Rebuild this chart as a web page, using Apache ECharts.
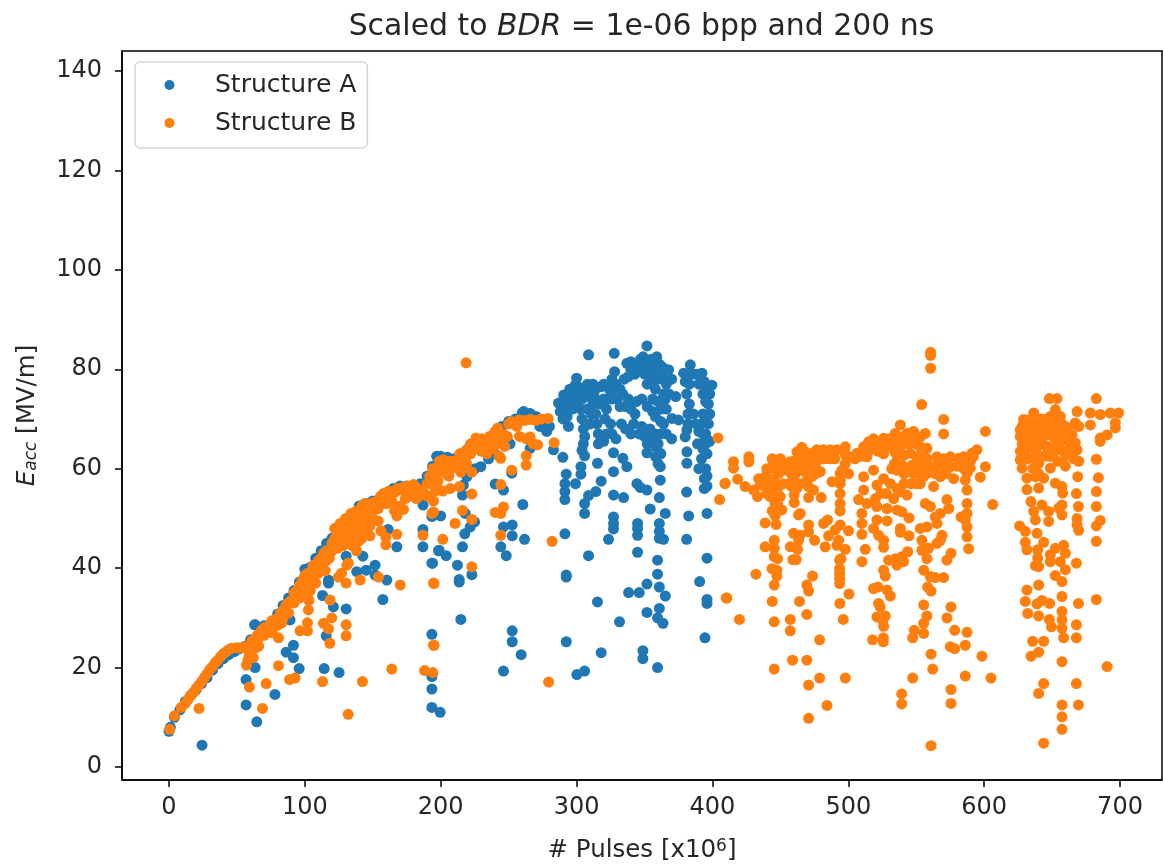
<!DOCTYPE html>
<html><head><meta charset="utf-8">
<script src="https://cdn.jsdelivr.net/npm/echarts@6/dist/echarts.min.js"></script>
<style>html,body{margin:0;padding:0;background:#fff}#c{width:1163px;height:866px}</style>
</head><body><div id="c"></div>
<script>
const xTicks=[0,100,200,300,400,500,600,700];
const yTicks=[0,20,40,60,80,100,120,140];
const seriesNames=['Structure A','Structure B'];
const structureABand=[[0,7.2],[1,8],[4,10],[8,11.5],[12,13.2],[16,14.4],[20,15.6],[24,16.8],[28,18],[32,19.5],[36,20.8],[40,21.8],[44,22.6],[48,23.2],[52,23.8],[56,24.3],[60,25.6],[63,28.6],[70,28.4],[75,29],[80,30.8],[84,32.5],[88,34],[92,35.5],[96,37.2],[100,39.8],[104,40.2],[108,42],[112,43.5],[116,45],[120,46],[124,47.3],[128,48.5],[132,50],[136,51],[140,52.5],[145,53],[150,53.5],[155,54],[160,55],[165,56],[170,56.5],[175,56.5],[180,56.2],[185,57],[190,58.5],[194,60.5],[197,62.5],[200,62.5],[205,62.3],[210,62],[215,63],[220,64],[225,64.5],[230,65],[235,66],[240,67],[245,68.5],[250,69.5],[255,70],[260,71.2],[265,71],[270,70.5],[275,68.8],[280,68.5],[278,67.5],[273,68.5],[265.8,71.1],[261,71.5],[251,65],[265.8,64.1],[240,63],[225.3,60],[219.2,58.4],[216.7,56.7],[218,51]];
const structureALow=[[24.3,4.4],[64.6,9.1],[56.7,12.5],[78,14.6],[56.7,17.6],[63.4,20],[95.8,19.8],[114.2,19.8],[125.2,19],[91.6,22],[86.2,23.1],[91.6,24.5],[115.7,26.4],[63.4,28.6],[89.1,29.6],[130.4,31.8],[121,32.2],[113,34.5],[157.4,33.7],[117.4,37],[117.4,37.6],[160.3,37.6],[151.7,38.6],[151.7,40.6],[145.1,39.6],[138.2,39.3],[142.7,42.4],[130.4,42.4],[167.7,44.3],[161.3,47.8],[186.9,44.3],[186.9,47.8],[193.5,41],[193.5,26.7],[193.5,15.7],[193.5,18.2],[193.5,12],[199.6,11],[198.4,43.5],[193.5,50.4],[187,52.7],[246.2,19.3],[300.2,18.6],[305.9,19.3],[318.1,23],[259.2,22.6],[252.6,25.2],[252.6,27.4],[292.4,25.2],[348.8,21.8],[348.8,23.4],[359.6,20],[331.6,29.2],[351.8,31.1],[359.6,30],[363.6,28.9],[360.9,31.9],[214.8,29.7],[394.5,26],[396,32.9],[396,33.7],[390.6,37.3],[365.3,34.4],[360.9,36.2],[351.8,36.8],[346.1,35.1],[338.3,35.1],[315.4,33.2],[292.4,38.6],[292.4,38.2],[359.6,38.8],[359.6,41.6],[396,42],[344.9,43.2],[308.8,42.5],[248.2,42.5],[244.2,44.3],[216,44.3],[204,42.5],[198.8,43.6],[194,41],[212.3,40.6],[222.9,38.7],[213.6,37.7],[213.6,37.2],[261.7,45.8],[252.6,46.5],[252.6,48.7],[246.2,48.3],[291.4,46.9],[323.5,45.8],[327.2,50.3],[327.2,47.9],[327.2,49],[344.9,49],[344.9,48],[344.9,46.6],[360.9,49],[360.9,47.4],[360.9,46],[364,45.8],[381,45.8],[365.3,51],[382.5,50.5],[396,51],[305.9,51],[305.9,53],[308.8,54.6],[314.2,55.4],[291.4,53.8],[291.4,55.4],[291.4,57],[292.4,58.9],[299.2,57],[303.2,58.9],[303.2,60.4],[327.2,54.7],[334.6,54.2],[354.2,51.9],[351.8,55.7],[344.4,57],[347,56.2],[360.9,54.2],[381,55.3],[318.1,57.5],[327.2,59.4],[315.4,61.1],[337,60.4],[334.1,62.1],[327.2,63.2],[305.9,62.6],[289.9,62.3],[283,63.8],[361.6,60.4],[361.6,57.7],[361.6,63.1],[351.8,63.2],[381.2,61.1],[381.2,63.4],[217.7,46.9],[221.7,48.3],[224.9,49.3],[200,50.5],[194,50.5],[216,54.7],[240.1,56.9],[246.2,55.7],[260.4,52.8],[229.5,60.4],[235.2,62],[252.3,59.1],[308.8,82.9],[327.7,83.2],[351.8,84.7]];
const structureACluster=[[286.7,73.2],[288,71.5],[290,70],[290.5,74.8],[292,72.5],[293,70.5],[294,68.5],[295,73.5],[297,72],[298,75],[299,76.8],[300,78.2],[301,76.5],[302,74],[303,72],[304,70],[305,68],[306,66.5],[305,65],[304,63.7],[306,75.5],[308,77],[310,75],[312,77],[312,73],[314,71],[315,69],[316,67],[316,65],[318,76.5],[320,74],[322,72],[321,70],[324,76],[326,78],[328,79.5],[327,76],[330,74],[332,72.5],[325,69],[322,67],[320,65.5],[326,67],[329,66],[333,69],[336,68],[340,67],[334,75],[336,72.5],[337,81.2],[340,80],[343,79],[345,81],[347,82],[349,82.5],[351,81.5],[353,80],[355,82],[357,81],[359,82.5],[361,81],[363,80.5],[365,80],[367.7,79.9],[352,77],[356,78],[360,78],[364,78],[358,76],[344,73.5],[348,74],[352,72.5],[356,74],[360,73.5],[364,75],[368,75],[358,70.5],[362,72],[342,69],[346,67],[350,66.5],[354,68],[358,67],[362,67],[364,69],[360,65],[362,63],[352,65],[366,67],[370,66],[373,74.5],[365.3,74],[370.2,70.1],[375,69.8],[381.2,67.8],[380,66.4],[378.8,79.2],[380,77.5],[381,75],[383.7,80.9],[383,77],[383,73],[382,71],[382,69],[385,79],[388,79],[390,79],[392.3,79.2],[394,77.5],[396,76],[399.6,76.8],[398,75],[397,73],[398,71],[397,69],[395,67],[393,67],[390,67.5],[398,65.5],[395,65],[392,65],[389,65],[396,63],[393,64],[392,62],[390,60],[395,60],[396,58.5],[394,58],[396,56.5],[394,56]];
const structureAClusterDense=[[290,73],[295,76],[300,75],[304,76],[308,74.5],[311,71],[314,74],[317,73],[300,73],[304,74],[308,72],[310,69],[313,75.5],[320,77],[323,74],[326,74],[329,77],[332,76],[335,78],[338,78.5],[340,72],[343,71],[338,74],[350,79],[354,79],[358,79],[362,79],[348,80.5],[342,81],[340,81.5],[366,77],[370,78],[366,72],[362,69.5],[356,71.5],[348,68.5],[352,67.5],[356,66],[358,64.5],[358,62.5],[360,61],[390,77],[393,75],[395,73.5],[393,71],[395,70],[392,69],[388,69],[386,71]];
const structureBBand=[[0.5,7.6],[4,10.3],[9,12],[12,12.8],[14,13.6],[16,14.4],[18,15],[20,15.8],[22,16.5],[24,17.2],[26,18],[28,18.8],[30,19.6],[32,20.2],[34,21],[36,21.5],[38,22.2],[40,22.8],[42,23.2],[44,23.6],[46,23.9],[50,24],[53,24],[56,24.2],[58,23.8],[59,22.5],[58,21.5],[57,20.5],[60,24.5],[61,25.4],[63,25.8],[65,26.5],[64,24],[66,24.3],[68,27.5],[70,28],[72,28],[74,27.8],[75,29],[76,27],[78,28.5],[80,30],[82,31],[84,31.5],[83,29],[86,32.5],[88,33],[90,33.5],[92,35],[94,35.5],[96,36.5],[98,37.5],[100,38.5],[102,39],[97,34.5],[100,35],[104,35.5],[103,33.5],[104,37.5],[106,40.5],[108,40.5],[110,41.5],[112,42],[114,43],[116,43.5],[118,42],[112,40],[115,39.5],[120,45],[122,46],[124,46.5],[126,47],[128,47.5],[130,47.5],[132,48.5],[134,49],[136,49.5],[138,50],[140,51],[120,43.5],[124,44],[128,44.5],[132,45],[136,46],[140,47.5],[144,48],[146,52],[148,52.5],[150,53.2],[152,53],[146,50],[150,50],[154,49.5],[156,47.5],[142,46],[148,46.5],[138,43.5],[127,39],[132,41],[155,54],[160,55],[163,54.8],[166,55.2],[170,55.8],[174,56],[178,56],[182,56.2],[184,54.5],[188,55],[170,52.5],[166,51.5],[190,57],[192,58.5],[194,60],[197,60],[200,61],[203,61],[206,61.5],[210,61.5],[213,62],[216,62.8],[219,63.8],[222,65],[226,66.2],[228,65],[231,65],[234,65],[238,65.5],[240,67.5],[242,68.2],[243,66.5],[246,67],[244,65],[247,64.5],[243,62.5],[250,69],[252,69.5],[256,68.5],[258,69.8],[262,69.7],[266,69.9],[270,69.7],[274,70],[279,70.1],[258,66.5],[263,66],[268,65],[249,66.5],[216,60],[219,61],[200,59.5],[204,59],[198,57.5],[196,55.5],[193,57]];
const structureBBandDense=[[122,48],[126,49],[130,50],[134,51],[138,51.5],[142,52.5],[144,53],[122,44],[126,45],[130,46],[134,47],[138,48],[142,49.5],[146,51],[150,51.5],[154,52],[148,48.5],[140,45.5],[135,44.5],[156,54.5],[158,55],[162,55.5],[160,53],[164,53.5],[168,56],[172,56.2],[176,56.5],[180,56.8],[174,54],[178,54.5],[182,54],[186,55.5],[190,54.5],[195,58.5],[197,56.5],[199,61.5],[202,61.8],[205,60],[208,60],[212,60.5],[215,61.5],[206,58.5],[214,63],[218,62],[222,63],[226,64],[230,63.5],[234,63],[238,64],[241,65.8],[236,66.5],[230,66],[106,38.5],[110,39],[116,41.5],[108,37],[92,33],[96,34],[88,31],[84,30],[80,28.5],[76,29.5],[70,26.5],[66,26],[60,23],[62,22],[102,36.5]];
const structureBEarly=[[22.1,11.8],[68.8,11.8],[59.2,16.1],[71.5,16.8],[88.7,17.6],[92.8,17.9],[80.6,20.4],[113,17.2],[142.4,17.2],[131.9,10.6],[164,19.7],[188.1,19.4],[194.2,19],[118.4,24.9],[130.4,26.4],[130.4,28.6],[117.4,27.8],[113.7,28.9],[119.8,30],[101.9,29],[101.9,27.4],[96.5,27.4],[80.6,26],[118.6,33.6],[102.6,31.6],[170.2,36.6],[194.7,37],[154.2,38.2],[140.7,37.6],[130.4,37],[124.7,38.2],[130.9,40.6],[167.7,46.8],[159.6,44.7],[159.6,46.2],[186.9,46.6],[194.7,24.5],[194.7,53.5],[193.5,51],[175,54.3],[167.7,50.5],[172.6,51.8],[218.7,81.3],[279.4,17.1],[282,45.4],[222.9,40.3],[201.5,45.8],[210.6,49],[222.9,49.8],[216,51.6],[194.7,51.3],[195.1,36.9],[195.1,24.5],[222.9,54.9],[201.5,55.5],[207,56],[213.8,56.4],[214.8,59.3],[222.9,59.3],[244.2,56.8],[240.1,51.2],[246.2,52.3],[244.2,51],[244.2,46.6],[252.3,59.7],[244.2,62.1],[262.9,60.7],[262.9,62.6],[271.3,64.8],[283.5,65.2],[265.8,66.4]];
const structureBMiddle=[[404.1,66.2],[409.2,57],[405.3,53.8],[410.2,34],[560.6,83.4],[560.6,82.8],[560.6,80.2],[554,72.9],[570.2,69.9],[570.2,67],[600.9,67.5],[560.9,4.3],[470.8,9.8],[484.3,12.4],[539.3,14.7],[539.3,12.7],[575.6,15.6],[575.6,12.8],[470.8,16.5],[478.9,17.9],[497.8,17.9],[445.5,19.7],[459,21.5],[469.5,21.5],[547.4,17.9],[562.1,19.7],[560.9,22.7],[586.1,18.3],[605,17.9],[598.4,22.3],[575.1,24.2],[578.3,23.8],[586.1,24.5],[478.9,25.6],[517.9,25.6],[525.8,26],[525.8,25.2],[547.4,26],[548.6,27.5],[555.5,26.9],[578.3,27.5],[587.4,27.1],[457.3,29.7],[457.3,27.4],[445.5,29.2],[419.9,29.7],[469.5,30.7],[496.3,29.7],[493.8,32.9],[464.1,33.3],[444,33.3],[410.6,34],[500.5,34.8],[523.5,32.2],[522.3,32.9],[521.1,30.2],[527.2,30.4],[526,28.3],[525.5,29.5],[555.5,32.6],[557.9,30.4],[555.5,28.9],[575.6,32.2],[572.6,30],[530.9,34.4],[528.5,35.6],[518.6,35.9],[521.8,36.2],[558.4,36.2],[560.9,35.4],[470.8,35.4],[469.5,36.6],[445.5,36.6],[473.7,38.4],[432,38.8],[493.6,36.9],[493.6,37.9],[493.6,38.9],[493.6,39.9],[493.6,41.6],[494.6,41.9],[447.4,38.4],[447.4,39.6],[443.8,39.9],[447.9,41.9],[445.5,42.3],[445.5,44],[445.5,45.6],[461.7,41.7],[459.2,41.7],[462.7,43.8],[457.3,44.3],[463.4,45.6],[459.7,47],[464.6,46.6],[470.8,48.7],[470.8,47.3],[475.2,45.6],[483,44.3],[481.8,49],[484.8,49.7],[485.5,46.5],[490.4,47.7],[494.1,48.7],[500.2,47.5],[492.9,45.6],[497.8,43.8],[491.6,44.6],[510,41.3],[512.5,43.8],[510,46.8],[510,49],[510,51],[526,39.6],[527.2,38.4],[529.7,41.6],[534.6,41.9],[540.7,41.3],[543.7,43.3],[539.5,42.3],[535.8,40.6],[518.6,48],[522.3,46.6],[526,45.6],[526,44.2],[521.1,49.7],[528.5,49.5],[538.3,48],[538.3,47.2],[544.7,46.5],[544.7,50.1],[553,48],[557.9,48.3],[554.2,45.6],[554.2,43.6],[559.1,44],[557.9,41.9],[555.5,39.6],[560.4,38.3],[564,38.1],[570.2,38.1],[588.6,43.9],[587.4,46.3],[587.4,48.3],[586.1,49.7],[583,50.3],[587.4,51],[587.4,53],[572.6,41.6],[575.6,43],[567.7,45.6],[569,46.6],[565.3,45],[565.3,49],[567.7,51],[573.9,52],[572.6,53.8],[564,50.3],[560.4,52.4],[556.7,53],[438.8,44.3],[438.8,49.1],[446.9,48.8],[446.2,50.5],[451.1,51.7],[464.6,51],[463.4,50.7],[480.1,54.2],[470.8,54.2],[460.2,53.2],[460.2,54.7],[606.3,52.8],[597.2,58.3],[600.9,60.4],[587.4,55.7],[586.1,57.7],[409.4,57.1],[418.5,57.9],[424.1,56.4],[415.5,61.4],[415.5,60.1],[426.8,62.4],[426.8,61.4],[494,59],[494,57],[494,55],[494,53],[494,51.5],[488,57.4],[479.4,59.4],[507.6,53.8],[511.3,55.7],[511.3,58.4],[513.7,53],[521,52.4],[528.5,52],[535.8,51.7],[539.5,51.3],[533.4,54],[538.3,55.4],[543.2,54.7],[521.1,56.7],[526,58],[535.8,59.7],[430.3,55.7],[433.2,54.4],[435.2,56.7],[438.8,58.4],[437.6,57],[442.5,60.1],[442.5,54.4],[446.2,53],[448.7,61.4],[448.7,59],[448.7,56.4],[445,57.7],[441.3,56.4],[449.9,54.4],[452.3,59.7],[457.3,61.4],[456,57],[458.5,56.4],[461,59],[463.4,61],[462.2,63.4],[465.8,64.3],[464.6,62.4],[465.8,59.7],[464.6,57],[470.8,56.4],[469.5,59],[470.8,62.1],[476.9,63.8],[473.2,58.4],[474.4,55.7],[486.7,63.8],[481.8,63.8],[491.6,63.8],[497.8,64.4],[497.8,62.8],[497.8,61],[495.3,59.7],[500.2,59],[494.1,57.7],[506.4,63.1],[511.3,64.4],[513.7,62.4],[518.6,66],[515,65.4],[526,66.1],[522.3,65.1],[518.6,59.7],[528.5,64.4],[534.6,67.1],[538.3,68.8],[543.2,67.1],[553,66.4],[556.7,67.1],[557.9,64.1],[533.4,65.1],[538.3,66.4],[538.3,64.4],[543.2,65.1],[548.1,65.8],[553,64.4],[535.8,62.7],[540.7,62.7],[545.6,63.1],[550.5,62.4],[555.5,62.4],[539.5,60.7],[546.9,60.7],[543.2,59.4],[553,60.4],[557.9,59],[562.8,56.4],[553,57],[555.5,58.4],[562.8,60.4],[565.3,62.4],[567.7,58.4],[575.1,62.4],[570.2,60.4],[577.6,58],[575.1,60.4],[584.9,62.4],[581.2,62.1],[591,63.1],[594.7,63.8],[589.8,60.1],[583.7,60.4],[587.4,59.1]];
const structureBMiddleDense=[[434,58],[440,60],[442,58],[444,62],[446,60],[450,62],[453,61],[440,55],[444,56],[447,55],[452,57],[455,60],[458,59],[460,61.5],[462,60],[466,61],[468,63.5],[472,62],[474,63.2],[468,60.5],[472,60],[476,61],[478,62.5],[482,62],[486,62],[490,62],[500,62.5],[505,62],[510,62.5],[515,63.5],[518,64],[522,63.5],[526,63],[530,66],[534,63.5],[532,60],[536,64.5],[541,66],[545,67],[548,67.5],[550,65],[545,65],[534,61],[541,59],[548,59],[551,61],[553,59],[556,61],[558,62],[550,57],[546,57],[541,57],[536,56],[531,57],[528,55],[524,55],[520,54],[560,60],[564,59],[566,61],[570,62],[572,59],[580,60.5],[590,61.5],[592,62.5],[585,60],[448,53],[444,51.5],[462,56],[460,58],[458,57],[470,58],[476,59]];
const structureBLate=[[648,74.1],[653.6,74.1],[682.6,74.1],[668.4,71.5],[678.2,71.2],[685.5,70.9],[692.9,71.2],[699,71.2],[696.6,69.2],[696.6,68.2],[690.5,66.8],[685.5,66.2],[685.5,65.5],[678.2,68.8],[667.1,69.2],[669.6,68.5],[636.5,71.2],[652.4,71.9],[656.1,70.5],[629.1,69.9],[626.6,67.8],[626.6,66.5],[634,69.9],[632.8,67.8],[632.8,66.2],[638.9,69.2],[638.9,67.2],[643.8,68.5],[643.8,66.5],[648.7,70.5],[648.7,68.5],[648.7,66.8],[654.9,69.2],[654.9,67.2],[659.8,68.5],[659.8,66.5],[664.7,66.8],[667.1,65.2],[668.4,63.8],[669.6,61.5],[626.6,63.5],[626.6,61.8],[627.9,60.1],[631.5,58.1],[631.5,55.8],[636.5,62.1],[640.1,61.1],[643.8,62.5],[648.7,60.1],[651.2,63.1],[658.5,63.5],[659.8,60.5],[636.5,64.8],[643.8,64.8],[652.4,64.8],[682.6,61.9],[668.9,58.4],[684.1,58.2],[637.7,58.4],[643.8,58.1],[640.1,56.1],[652.4,57.1],[657.3,56.4],[657.8,55.1],[667.9,55],[682.6,55.4],[669.4,52.4],[682.6,52.4],[634.5,53.4],[642.6,52.7],[636.5,51.4],[637.7,49.7],[647.5,51.4],[647.5,49.4],[657.3,52.7],[654.9,52.1],[657.3,50.7],[668.4,50],[668.4,48.7],[669.6,47.6],[685.5,49.6],[682.6,48.5],[626.1,48.5],[630.3,47.4],[638.9,47],[643.8,45.2],[682.6,45.4],[630.3,45.2],[631.5,43.7],[639.4,43.7],[639.4,42],[637.7,40.5],[640.1,40.3],[658.5,44.6],[652.4,44],[648.7,42.7],[648.7,41.3],[659.8,43],[656.1,41.3],[659.8,39.7],[652.4,38.5],[657.3,37.3],[667.9,41],[640.1,36.6],[631.5,35.6],[630.3,33.3],[638.9,32.8],[642.6,33.5],[648.2,32.9],[657.3,34.3],[669.4,32.9],[682.6,33.7],[632,30.9],[640.1,30.4],[648,29.7],[649.5,28.2],[657.3,31.3],[657.3,29.6],[657.3,27.9],[667.9,28.6],[658.5,26],[667.9,26],[635.7,25.3],[643.8,25.3],[634.5,22.3],[640.1,23.1],[657.3,21.2],[690.5,20.2],[643.8,16.8],[667.9,16.8],[640.1,14.8],[657.3,12.5],[669.4,12.5],[657.3,10.1],[657.3,7.6],[643.8,4.8]];
const structureBLateDense=[[628,68.5],[630,67],[630,65.5],[634,68.5],[636,69.5],[636,66],[640,68],[642,70],[646,70],[646,67],[650,69.5],[652,68],[652,66],[657,69],[657,66],[662,68],[662,65.5],[628,65],[634,64.5],[640,65],[646,64.5],[650,62.5],[655,64.5],[648,62.5],[630,63],[632,62],[636,60],[640,59],[654,61.5],[658,61.5],[662,63],[664,64],[666,62],[638,63.5]];

const structureA=[...structureABand,...structureALow,...structureACluster,...structureAClusterDense];
const structureB=[...structureBBand,...structureBBandDense,...structureBEarly,...structureBMiddle,...structureBMiddleDense,...structureBLate,...structureBLateDense];
const TXT='#262626', FONT='"DejaVu Sans"';
const chart=echarts.init(document.getElementById('c'),null,{renderer:'canvas'});
chart.setOption({
 animation:false,
 backgroundColor:'#fff',
 title:{left:636.5,textAlign:'center',top:7,
   text:'{n|Scaled to }{i|BDR}{n| = 1e-06 bpp and 200 ns}',
   textStyle:{rich:{n:{fontFamily:FONT,fontSize:29.9,color:TXT,fontWeight:'normal'},i:{fontFamily:FONT,fontSize:29.9,color:TXT,fontStyle:'italic',fontWeight:'normal'}}}},
 legend:{left:135,top:62,orient:'vertical',padding:[10.5,11,12.5,29.5],itemGap:13,
   icon:'circle',itemWidth:10,itemHeight:10,
   backgroundColor:'#fff',borderColor:'#d5d5d5',borderWidth:1.5,borderRadius:5,
   data:seriesNames,
   textStyle:{fontFamily:FONT,fontSize:25,color:TXT,padding:[0,0,0,35.5]}},
 grid:{left:122,right:1,top:51,bottom:86,show:true,borderColor:'#000',borderWidth:1.5,backgroundColor:'#fff',outerBoundsMode:'none',containLabel:false},
 xAxis:{type:'value',min:-34.6,max:730.9,
   name:'{n|# Pulses [x10}{s|6}{n|]}',nameLocation:'middle',nameGap:58,
   nameTextStyle:{rich:{n:{fontFamily:FONT,fontSize:24.5,color:TXT},s:{fontFamily:FONT,fontSize:17,color:TXT,verticalAlign:'top',padding:[0,0,6,0]}}},
   splitLine:{show:false},
   axisLine:{show:true,onZero:false,lineStyle:{color:'#000',width:1.5}},
   axisTick:{show:true,length:7,lineStyle:{color:'#000',width:1.5},customValues:xTicks},
   axisLabel:{customValues:xTicks,fontFamily:FONT,fontSize:24,color:TXT,margin:16,formatter:v=>String(v)}},
 yAxis:{type:'value',min:-2.6,max:144,
   name:'{i|E}{s|acc}{n| [MV/m]}',nameLocation:'middle',nameGap:82,nameRotate:90,
   nameTextStyle:{rich:{n:{fontFamily:FONT,fontSize:24.5,color:TXT},i:{fontFamily:FONT,fontSize:24.5,color:TXT,fontStyle:'italic'},s:{fontFamily:FONT,fontSize:17,color:TXT,fontStyle:'italic',verticalAlign:'bottom'}}},
   splitLine:{show:false},
   axisLine:{show:true,onZero:false,lineStyle:{color:'#000',width:1.5}},
   axisTick:{show:true,length:7,lineStyle:{color:'#000',width:1.5},customValues:yTicks},
   axisLabel:{customValues:yTicks,fontFamily:FONT,fontSize:24,color:TXT,margin:20,padding:[8,0,0,0],formatter:v=>String(v)}},
 series:[
  {name:seriesNames[0],type:'scatter',data:structureA,symbol:'circle',symbolSize:11,itemStyle:{color:'#1f77b4',opacity:1},clip:true},
  {name:seriesNames[1],type:'scatter',data:structureB,symbol:'circle',symbolSize:11,itemStyle:{color:'#ff7f0e',opacity:1},clip:true}
 ]
});
</script></body></html>
